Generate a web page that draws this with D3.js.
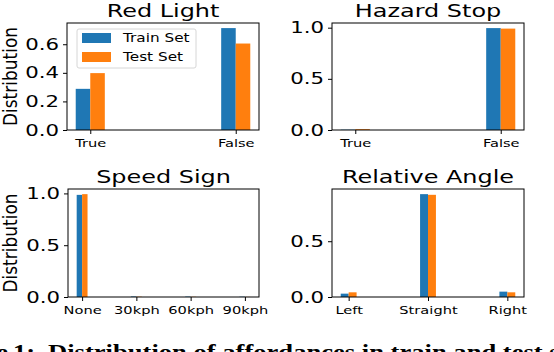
<!DOCTYPE html>
<html>
<head>
<meta charset="utf-8">
<script src="https://cdn.jsdelivr.net/npm/d3@7"></script>
<style>
  body { margin: 0; background: #fff; }
  text { font-family: "DejaVu Sans", sans-serif; fill: #000; }
  .caption { font-family: "Liberation Serif", "DejaVu Serif", serif; font-weight: bold; }
</style>
</head>
<body>
<div class="chart"></div>
<script>
// data
var redLightCats = ["True", "False"];
var redLightTrain = [0.288, 0.713];
var redLightTest = [0.398, 0.605];

var hazardCats = ["True", "False"];
var hazardTrain = [0.003, 0.996];
var hazardTest = [0.008, 0.991];

var speedCats = ["None", "30kph", "60kph", "90kph"];
var speedTrain = [0.986, 0.005, 0.004, 0.003];
var speedTest = [0.993, 0.003, 0.002, 0.001];

var angleCats = ["Left", "Straight", "Right"];
var angleTrain = [0.030, 0.922, 0.048];
var angleTest = [0.042, 0.916, 0.042];

var redLightTicks = [0, 0.2, 0.4, 0.6];
var hazardTicks = [0, 0.5, 1.0];
var speedTicks = [0, 0.5, 1.0];
var angleTicks = [0, 0.5];

var seriesNames = ["Train Set", "Test Set"];
var colors = ["#1f77b4", "#ff7f0e"];

// the source figure is stretched horizontally
var sx = 1.33;

var panels = [
  {title: "Red Light", cats: redLightCats, train: redLightTrain, test: redLightTest, ticks: redLightTicks,
   box: {left: 67, right: 259, top: 23, bottom: 130}, ylabel: true, legend: true},
  {title: "Hazard Stop", cats: hazardCats, train: hazardTrain, test: hazardTest, ticks: hazardTicks,
   box: {left: 332, right: 524, top: 23, bottom: 130}},
  {title: "Speed Sign", cats: speedCats, train: speedTrain, test: speedTest, ticks: speedTicks,
   box: {left: 68, right: 259, top: 189, bottom: 297}, ylabel: true},
  {title: "Relative Angle", cats: angleCats, train: angleTrain, test: angleTest, ticks: angleTicks,
   box: {left: 332, right: 524, top: 189, bottom: 297}}
];

var svg = d3.select(".chart")
  .append("svg")
  .attr("width", 554)
  .attr("height", 352);

// move x/y into a transform so the text can be stretched in place
function stretch(sel, s) {
  sel.each(function() {
    var t = d3.select(this);
    var x = +t.attr("x") || 0, y = +t.attr("y") || 0;
    t.attr("x", 0).attr("y", 0)
      .attr("transform", "translate(" + x + "," + y + ") scale(" + s + ",1)");
  });
}

panels.forEach(function(p) {
  var n = p.cats.length;
  var m = 0.05 * (n - 1 + 0.2);
  var x = d3.scaleLinear()
    .domain([-0.1 - m, n - 1 + 0.1 + m])
    .range([p.box.left, p.box.right]);
  var ymax = d3.max(p.train.concat(p.test)) * 1.05;
  var y = d3.scaleLinear()
    .domain([0, ymax])
    .range([p.box.bottom, p.box.top]);

  var g = svg.append("g");

  // bars
  [p.train, p.test].forEach(function(vals, s) {
    g.selectAll(".bar" + s)
      .data(vals)
      .enter()
      .append("rect")
      .attr("x", function(d, i) { return x(i - 0.1 + s * 0.1); })
      .attr("width", function(d, i) { return x(i + s * 0.1) - x(i - 0.1 + s * 0.1); })
      .attr("y", function(d) { return y(d); })
      .attr("height", function(d) { return y(0) - y(d); })
      .attr("fill", colors[s]);
  });

  // axes
  var xa = g.append("g")
    .attr("transform", "translate(0," + p.box.bottom + ")")
    .call(d3.axisBottom(x)
      .tickValues(d3.range(n))
      .tickFormat(function(i) { return p.cats[i]; })
      .tickSize(4).tickSizeOuter(0).tickPadding(5));
  xa.select(".domain").remove();
  xa.selectAll("text").style("font-size", "11px").attr("font-family", null);
  stretch(xa.selectAll("text"), sx);

  var ya = g.append("g")
    .attr("transform", "translate(" + p.box.left + ",0)")
    .call(d3.axisLeft(y)
      .tickValues(p.ticks)
      .tickFormat(d3.format(".1f"))
      .tickSize(4).tickSizeOuter(0).tickPadding(4));
  ya.select(".domain").remove();
  ya.selectAll("text").style("font-size", "16px").attr("font-family", null);
  stretch(ya.selectAll("text"), sx);

  // frame
  g.append("rect")
    .attr("x", p.box.left)
    .attr("y", p.box.top)
    .attr("width", p.box.right - p.box.left)
    .attr("height", p.box.bottom - p.box.top)
    .attr("fill", "none")
    .attr("stroke", "#000")
    .attr("stroke-width", 1);

  // title
  g.append("text")
    .attr("text-anchor", "middle")
    .attr("transform", "translate(" + ((p.box.left + p.box.right) / 2) + "," + (p.box.top - 6) + ") scale(" + sx + ",1)")
    .style("font-size", "18px")
    .text(p.title);

  // y label
  if (p.ylabel) {
    g.append("text")
      .attr("text-anchor", "middle")
      .attr("transform", "translate(17," + ((p.box.top + p.box.bottom) / 2) + ") rotate(-90) scale(1,1.1)")
      .style("font-size", "17px")
      .text("Distribution");
  }

  // legend
  if (p.legend) {
    var lg = g.append("g");
    lg.append("rect")
      .attr("x", 77).attr("y", 29)
      .attr("width", 119).attr("height", 39)
      .attr("rx", 2)
      .attr("fill", "#fff").attr("fill-opacity", 0.8)
      .attr("stroke", "#d6d6d6");
    seriesNames.forEach(function(name, i) {
      lg.append("rect")
        .attr("x", 82).attr("y", 33 + i * 19)
        .attr("width", 29).attr("height", 10)
        .attr("fill", colors[i]);
      lg.append("text")
        .attr("transform", "translate(123," + (42 + i * 19) + ") scale(" + sx + ",1)")
        .style("font-size", "11.5px")
        .text(name);
    });
  }
});

// caption, cut off by the bottom edge
svg.append("text")
  .attr("class", "caption")
  .attr("text-anchor", "end")
  .attr("transform", "translate(8,359) scale(" + sx + ",1)")
  .style("font-size", "20px")
  .text("Figure");
svg.append("text")
  .attr("class", "caption")
  .attr("transform", "translate(13,359) scale(" + sx + ",1)")
  .style("font-size", "20px")
  .text("1:");
svg.append("text")
  .attr("class", "caption")
  .attr("transform", "translate(48,359) scale(" + sx + ",1)")
  .style("font-size", "20px")
  .text("Distribution of affordances in train and test sets.");
</script>
</body>
</html>
